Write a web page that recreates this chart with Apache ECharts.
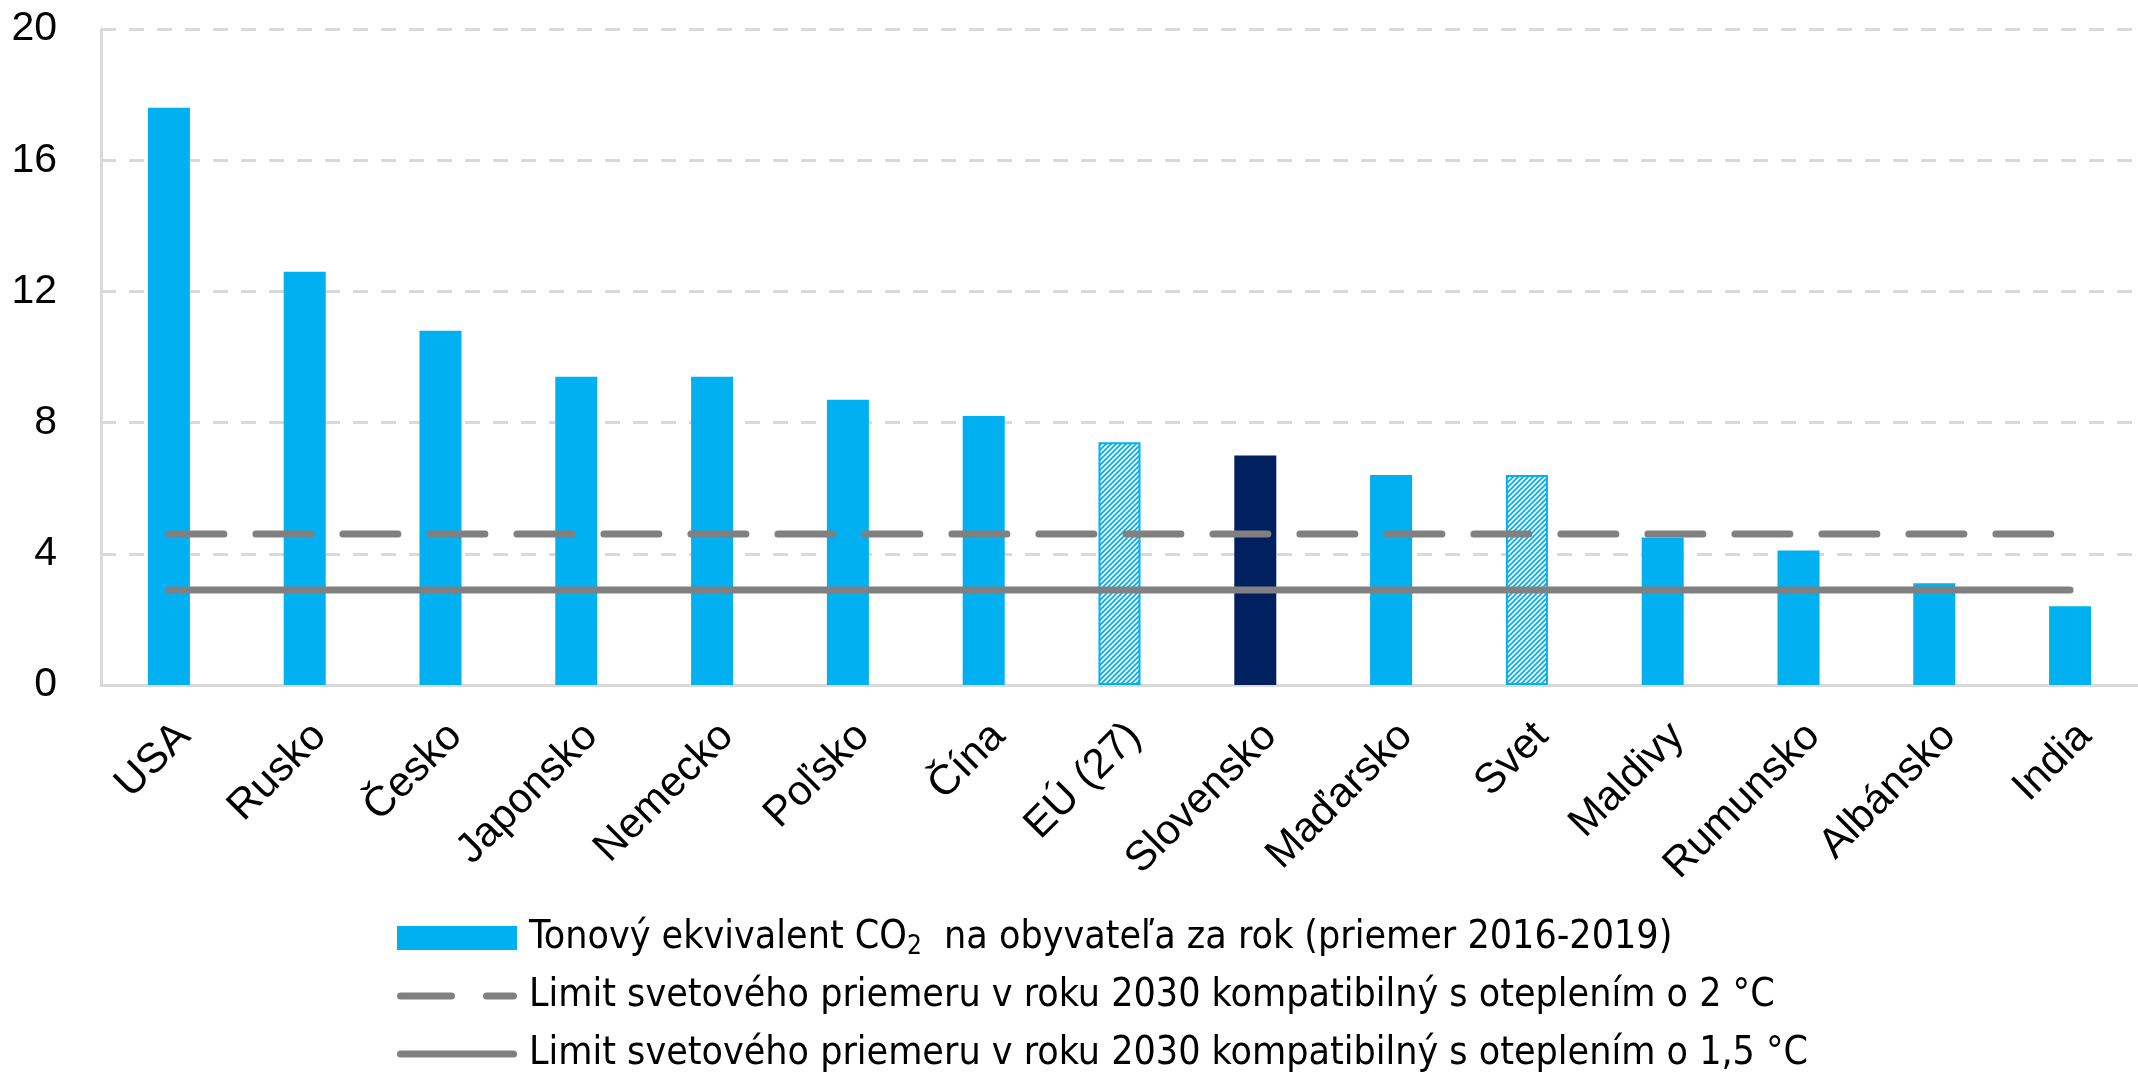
<!DOCTYPE html>
<html>
<head>
<meta charset="utf-8">
<script src="https://cdn.jsdelivr.net/npm/echarts@6/dist/echarts.min.js"></script>
<style>
    html, body { margin: 0; padding: 0; background: #fff; }
    #chart { width: 2138px; height: 1076px; }
</style>
</head>
<body>
<div id="chart"></div>
<script>
    // krajiny
    const categories = ['USA', 'Rusko', 'Česko', 'Japonsko', 'Nemecko', 'Poľsko', 'Čína', 'EÚ (27)',
        'Slovensko', 'Maďarsko', 'Svet', 'Maldivy', 'Rumunsko', 'Albánsko', 'India']
    // t CO2 ekv. na obyvatela (priemer 2016-2019)
    const co2 = [17.6, 12.6, 10.8, 9.4, 9.4, 8.7, 8.2, 7.4, 7.0, 6.4, 6.4, 4.5, 4.1, 3.1, 2.4]
    // limity 2030
    const limit2 = [4.6, 4.6, 4.6, 4.6, 4.6, 4.6, 4.6, 4.6, 4.6, 4.6, 4.6, 4.6, 4.6, 4.6, 4.6]
    const limit15 = [2.9, 2.9, 2.9, 2.9, 2.9, 2.9, 2.9, 2.9, 2.9, 2.9, 2.9, 2.9, 2.9, 2.9, 2.9]
    const yTicks = [0, 4, 8, 12, 16, 20]

    const names = [
        'Tonový ekvivalent CO{sub|2}  na obyvateľa za rok (priemer 2016-2019)',
        'Limit svetového priemeru v roku 2030 kompatibilný s oteplením o 2 °C',
        'Limit svetového priemeru v roku 2030 kompatibilný s oteplením o 1,5 °C'
    ]

    const blue = '#00b0f0'
    const navy = '#002060'
    const gray = '#808080'

    // ikony legendy pre ciary (zaoblene konce)
    const dashIcon = 'path://M3.5,0H54.5A3.5,3.5,0,0,1,54.5,7H3.5A3.5,3.5,0,0,1,3.5,0Z' +
        'M89.5,0H116.5A3.5,3.5,0,0,1,116.5,7H89.5A3.5,3.5,0,0,1,89.5,0Z'
    const lineIcon = 'path://M3.5,0H116.5A3.5,3.5,0,0,1,116.5,7H3.5A3.5,3.5,0,0,1,3.5,0Z'

    // srafovanie pre EU a Svet
    function hatch() {
        let s = 5
        let c = document.createElement('canvas')
        c.width = s
        c.height = s
        let ctx = c.getContext('2d')
        ctx.fillStyle = '#fff'
        ctx.fillRect(0, 0, s, s)
        ctx.strokeStyle = blue
        ctx.lineWidth = 1.8
        ctx.beginPath()
        ctx.moveTo(-1, s + 1); ctx.lineTo(s + 1, -1)
        ctx.moveTo(-1, 1); ctx.lineTo(1, -1)
        ctx.moveTo(s - 1, s + 1); ctx.lineTo(s + 1, s - 1)
        ctx.stroke()
        return c
    }
    const pattern = { image: hatch(), repeat: 'repeat' }

    const barData = co2.map((v, i) => {
        let name = categories[i]
        if (name === 'Slovensko') return { value: v, itemStyle: { color: navy } }
        if (name === 'EÚ (27)' || name === 'Svet') {
            return { value: v, itemStyle: { color: pattern, borderColor: blue, borderWidth: 2 } }
        }
        return v
    })

    const font = "'Liberation Sans', Arial, sans-serif"

    const option = {
        animation: false,
        grid: { left: 101, top: 29, width: 2040, height: 656 },
        legend: {
            orient: 'vertical',
            left: 397,
            top: 916,
            padding: 0,
            itemWidth: 120,
            itemHeight: 24,
            itemGap: 14,
            itemStyle: { borderWidth: 0 },
            data: [
                { name: names[0], icon: 'rect' },
                { name: names[1], icon: dashIcon },
                { name: names[2], icon: lineIcon }
            ],
            textStyle: {
                fontFamily: "'DejaVu Sans Condensed', 'Liberation Sans', sans-serif",
                fontSize: 39,
                lineHeight: 44,
                padding: [0, 0, 0, 7],
                color: '#000',
                rich: {
                    sub: { fontSize: 26, lineHeight: 16, verticalAlign: 'bottom' }
                }
            }
        },
        xAxis: {
            type: 'category',
            data: categories,
            axisLine: { lineStyle: { color: '#d9d9d9', width: 3 } },
            axisTick: { show: false },
            axisLabel: {
                rotate: 45,
                margin: 30,
                interval: 0,
                verticalAlign: 'top',
                fontFamily: font,
                fontSize: 42,
                color: '#000'
            }
        },
        yAxis: {
            type: 'value',
            min: yTicks[0],
            max: yTicks[yTicks.length - 1],
            interval: 4,
            axisLine: { show: true, lineStyle: { color: '#d9d9d9', width: 3 } },
            axisTick: { show: false },
            splitLine: { lineStyle: { color: '#d9d9d9', width: 3, type: [15, 13] } },
            axisLabel: {
                margin: 44,
                fontFamily: font,
                fontSize: 41,
                color: '#000'
            }
        },
        series: [
            {
                name: names[0],
                type: 'bar',
                barWidth: 42,
                itemStyle: { color: blue },
                data: barData,
                z: 2
            },
            {
                name: names[1],
                type: 'line',
                symbol: 'none',
                data: limit2,
                lineStyle: { color: gray, width: 7, type: [55, 32], cap: 'round' },
                itemStyle: { color: gray, borderWidth: 0 },
                z: 3
            },
            {
                name: names[2],
                type: 'line',
                symbol: 'none',
                data: limit15,
                lineStyle: { color: gray, width: 7, cap: 'round' },
                itemStyle: { color: gray, borderWidth: 0 },
                z: 3
            }
        ]
    }

    echarts.init(document.getElementById('chart')).setOption(option)
</script>
</body>
</html>
